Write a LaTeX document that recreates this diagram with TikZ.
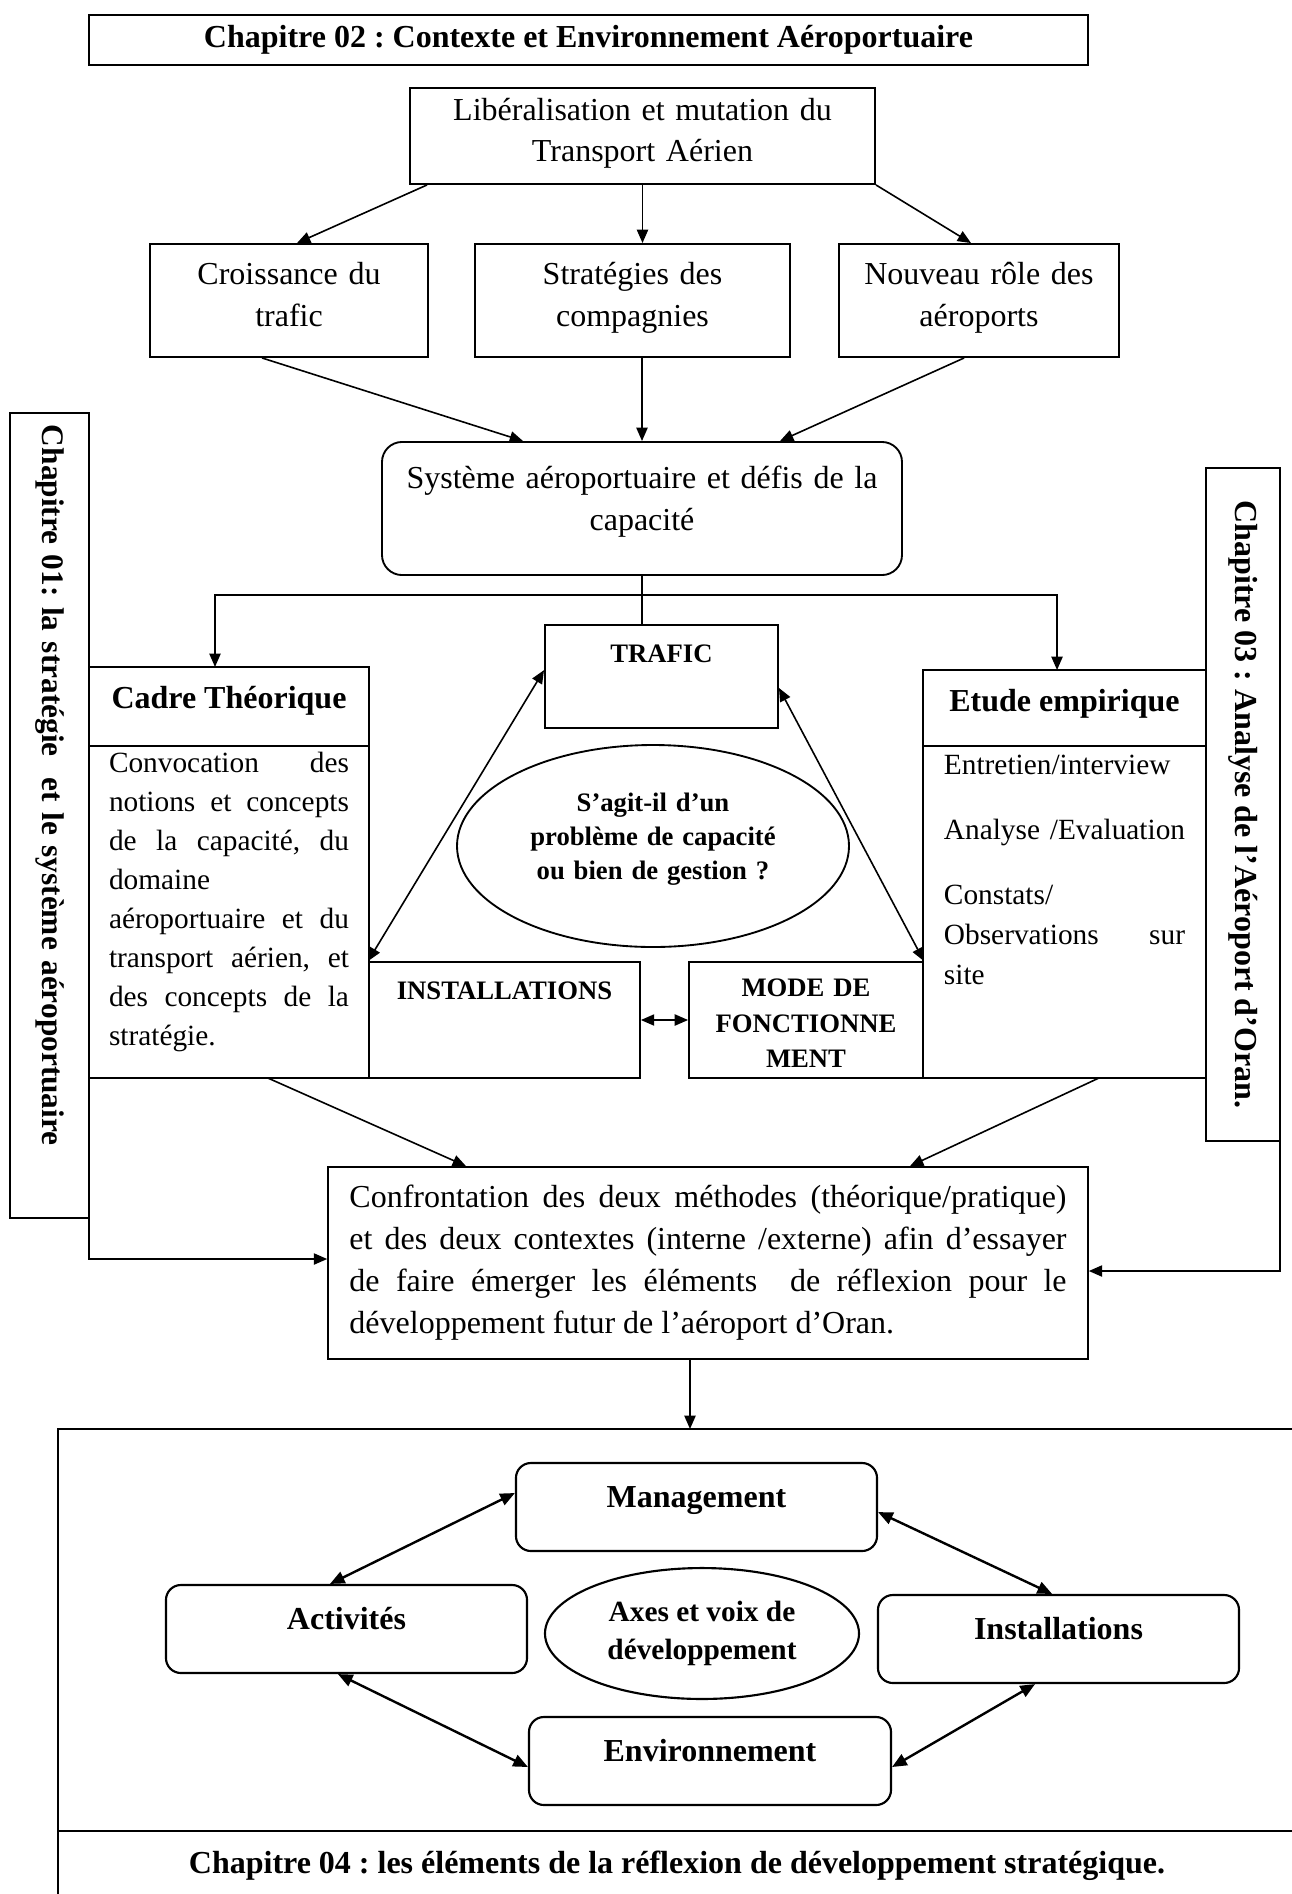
\documentclass[tikz,border=0pt]{standalone}
\usepackage{fontspec}
\setmainfont{Liberation Serif}
\usetikzlibrary{shapes.geometric, arrows.meta}
\frenchspacing
\hyphenpenalty=10000
\tikzstyle{fleche} = [
	line width=0.6pt,
	-{Triangle[length=5pt,width=4.2pt]},
	black,
]
\tikzstyle{dfleche} = [
	line width=0.6pt,
	{Triangle[length=5pt,width=4.2pt]}-{Triangle[length=5pt,width=4.2pt]},
	black,
]
\tikzstyle{dflecheb} = [
	line width=0.9pt,
	{Triangle[length=5.5pt,width=4.6pt]}-{Triangle[length=5.5pt,width=4.6pt]},
	black,
]
\tikzstyle{boite} = [
  rectangle,
  line width=0.7pt,
  inner sep=0pt,
  align=center,
  draw=black,
  font=\fontsize{12}{15.75}\selectfont
]
\tikzstyle{chapitre} = [
  rectangle,
  line width=0.7pt,
  outer sep=0pt,
  draw=black,
  font=\bfseries\fontsize{12}{15}\selectfont
]
\tikzstyle{titre} = [
  rectangle,
  line width=0.7pt,
  inner ysep=0pt,
  outer sep=0pt,
  draw=black,
  font=\bfseries\fontsize{12}{15}\selectfont
]
\tikzstyle{petit} = [
  rectangle,
  line width=0.7pt,
  inner ysep=0pt,
  draw=black,
  font=\bfseries\fontsize{10}{13.2}\selectfont
]
\tikzstyle{corps} = [
  rectangle,
  line width=0.7pt,
  inner ysep=0pt,
  outer sep=0pt,
  draw=black,
  font=\fontsize{11}{14.65}\selectfont
]
\tikzstyle{bulle} = [
  ellipse,
  line width=0.7pt,
  inner sep=0pt,
  align=center,
  draw=black
]
\tikzstyle{axe} = [
  rectangle,
  rounded corners=5.6pt,
  line width=0.8pt,
  minimum width=135.4pt,
  text height=16.5pt,
  text depth=16.5pt,
  inner ysep=0pt,
  draw=black,
  font=\bfseries\fontsize{12}{15}\selectfont
]

\begin{document}
\begin{tikzpicture}[x=0.375pt, y=-0.375pt]
    \useasboundingbox (0,0) rectangle (1292,1894);

    \node[chapitre, minimum width=374.6pt, minimum height=19pt] (ch2) at (588.5,40) {Chapitre 02 : Contexte et Environnement Aéroportuaire};
    \node[boite, text width=174.4pt, text height=12.25pt, text depth=23.75pt, font=\fontsize{12}{15.4}\selectfont] (lib) at (642.5,136) {Libéralisation et mutation du\\Transport Aérien};
    \node[boite, text width=104.25pt, text height=15.3pt, text depth=27.1pt] (crois) at (289,300.5) {Croissance du\\trafic};
    \node[boite, text width=118.1pt, text height=15.3pt, text depth=27.1pt] (strat) at (632.5,300.5) {Stratégies des\\compagnies};
    \node[boite, text width=105pt, text height=15.3pt, text depth=27.1pt] (nouv) at (979,300.5) {Nouveau rôle des\\aéroports};
    \node[boite, rounded corners=7.5pt, text width=195pt, text height=17.4pt, text depth=32.5pt] (sys) at (642,508.5) {Système aéroportuaire et défis de la\\capacité};

    \node[chapitre, rotate=-90, minimum height=29.6pt, text width=292.9pt, inner xsep=4.5pt, align=left, font=\bfseries\fontsize{11.75}{15}\selectfont] (ch1) at (49.5,815.5) {Chapitre 01: la stratégie\ \ et le système aéroportuaire};
    \node[chapitre, rotate=-90, minimum width=252.4pt, minimum height=27.75pt] (ch3) at (1243,804.5) {Chapitre 03 : Analyse de l’Aéroport d’Oran.};

    \node[titre, minimum width=105pt, text height=15.4pt, text depth=14.25pt] (cadreT) at (229,706.5) {Cadre Théorique};
    \node[corps, align=justify, anchor=north, minimum width=105pt, text width=90pt, text height=9.9pt, text depth=114.6pt] (cadreB) at (cadreT.south) {Convocation des\linebreak notions et concepts\linebreak de la capacité, du\linebreak domaine\\ aéroportuaire et du\linebreak transport aérien, et\linebreak des concepts de la\linebreak stratégie.};
    \node[titre, minimum width=106.1pt, text height=15.4pt, text depth=13.1pt] (etudeT) at (1064.5,708) {Etude empirique};
    \node[corps, align=left, anchor=north, minimum width=106.1pt, text width=90.4pt, text height=10.5pt, text depth=114pt, font=\fontsize{11}{15}\selectfont] (etudeB) at (etudeT.south) {Entretien/interview\\[9.4pt] \mbox{Analyse /Evaluation}\\[9.4pt] Constats/\\ Observations\hfill sur\\ site};

    \node[petit, minimum width=87.4pt, text height=14.05pt, text depth=24.6pt] (trafic) at (661.5,676.5) {TRAFIC};
    \node[bulle, minimum width=147pt, minimum height=75.75pt, text width=95pt, text height=11.25pt, text depth=37.5pt, font=\bfseries\fontsize{10}{12.8}\selectfont] (quest) at (653,846) {S’agit-il d’un\\problème de capacité\\ou bien de gestion ?};
    \node[petit, minimum width=101.6pt, text height=13.9pt, text depth=29.6pt] (inst) at (504.5,1020) {INSTALLATIONS};
    \node[petit, align=center, minimum width=87.75pt, text width=80pt, text height=13.1pt, text depth=30.4pt] (mode) at (806,1020) {MODE DE\\FONCTIONNE\\MENT};

    \node[boite, align=justify, inner xsep=8pt, text width=268.9pt, minimum height=72pt] (conf) at (708,1263) {Confrontation des deux méthodes (théorique/pratique)\linebreak et des deux contextes (interne /externe) afin d’essayer\linebreak de faire émerger les éléments\ \ de réflexion pour le\linebreak développement futur de l’aéroport d’Oran.};

    \node[chapitre, minimum width=464.25pt, minimum height=150.75pt] (zone) at (677,1630) {};
    \node[chapitre, anchor=north, minimum width=464.25pt, minimum height=25.9pt] (ch4) at (zone.south) {Chapitre 04 : les éléments de la réflexion de développement stratégique.};
    \node[axe] (mgmt) at (696.5,1507) {Management};
    \node[axe] (act) at (346.5,1629) {Activités};
    \node[bulle, line width=0.8pt, minimum width=117.75pt, minimum height=49.1pt, font=\bfseries\fontsize{11}{14.25}\selectfont] (axes) at (702,1633.5) {Axes et voix de\\développement};
    \node[axe] (instb) at (1058.5,1639) {Installations};
    \node[axe, minimum width=135.75pt] (env) at (710,1761) {Environnement};

    \draw[fleche] ([xshift=6.75pt]lib.south west) -- ([xshift=3pt]crois.north);
    \draw[fleche] (lib.south) -- (lib.south |- strat.north);
    \draw[fleche] (lib.south east) -- ([xshift=-3pt]nouv.north);
    \draw[fleche] ([xshift=-10.1pt]crois.south) -- ([xshift=-44.6pt]sys.north);
    \draw[fleche] (sys.north |- strat.south) -- (sys.north);
    \draw[fleche] ([xshift=-5.6pt]nouv.south) -- ([xshift=51.75pt]sys.north);

    \coordinate (split) at (642,595);
    \draw[line width=0.6pt] (sys.south) -- (sys.south |- trafic.north);
    \draw[fleche] (split) -| ([xshift=-5.25pt]cadreT.north);
    \draw[fleche] (split) -| ([xshift=-2.8pt]etudeT.north);

    \draw[dfleche] ([yshift=2.4pt]trafic.west) -- (inst.north west);
    \draw[dfleche] ([yshift=-4.3pt]trafic.east) -- (mode.north east);
    \draw[dfleche] (inst.east) -- (mode.west);

    \draw[fleche] ([xshift=14.6pt]cadreB.south) -- ([xshift=-90.75pt]conf.north);
    \draw[fleche] ([xshift=12.9pt]etudeB.south) -- ([xshift=75.75pt]conf.north);
    \draw[fleche] (ch1.north east) |- ([yshift=1.5pt]conf.west);
    \draw[fleche] (ch3.north east) |- ([yshift=-3pt]conf.east);
    \draw[fleche] ([xshift=-6.75pt]conf.south) -- ([xshift=-6.75pt]conf.south |- zone.north);

    \draw[dflecheb] ([yshift=5.25pt]mgmt.west) -- ([xshift=-6.2pt]act.north);
    \draw[dflecheb] ([xshift=-3.2pt]act.south) -- ([yshift=-2.25pt]env.west);
    \draw[dflecheb] ([yshift=-1.9pt]mgmt.east) -- ([xshift=-2.4pt]instb.north);
    \draw[dflecheb] ([xshift=-8.8pt]instb.south) -- ([yshift=-2.25pt]env.east);
\end{tikzpicture}
\end{document}
